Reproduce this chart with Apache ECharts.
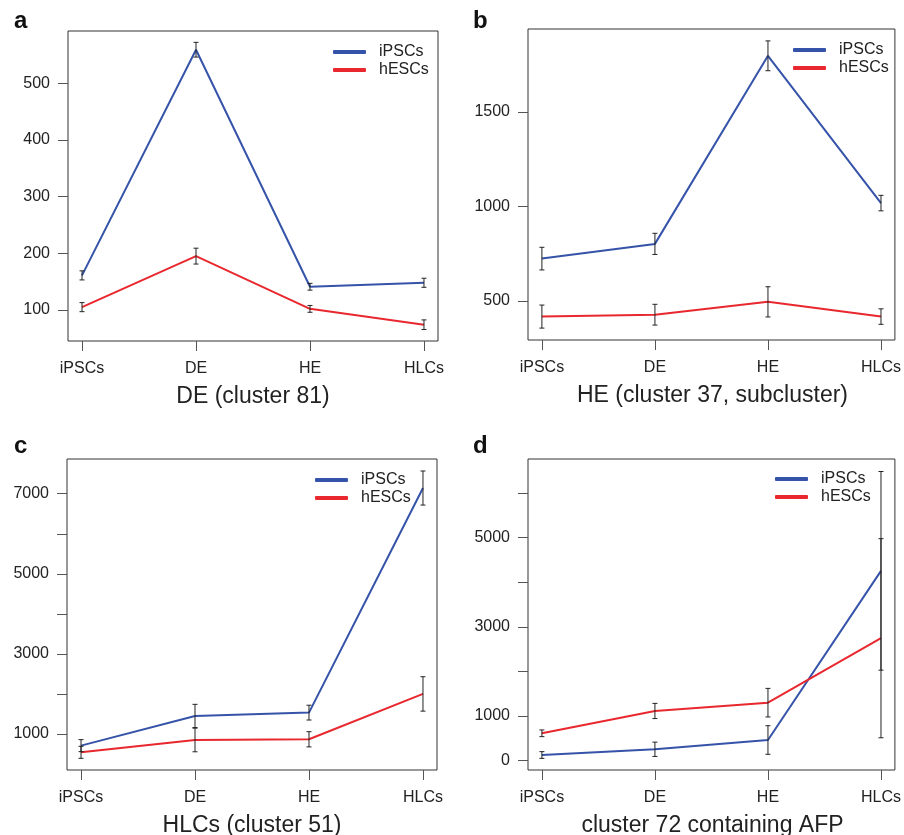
<!DOCTYPE html>
<html>
<head>
<meta charset="utf-8">
<script src="https://cdn.jsdelivr.net/npm/echarts@6/dist/echarts.min.js"></script>
<style>
  html, body { margin: 0; padding: 0; background: #fff; }
  #main { width: 904px; height: 835px; }
</style>
</head>
<body>
<div id="main"></div>
<script>
const categories = ['iPSCs', 'DE', 'HE', 'HLCs']

// panel a - DE (cluster 81)
const aIPSC = [161, 559, 141, 148]
const aIPSCErr = [8, 13, 6, 8]
const aHESC = [105, 195, 102, 74]
const aHESCErr = [8, 14, 6, 8.5]
const aTicks = [100, 200, 300, 400, 500]

// panel b - HE (cluster 37, subcluster)
const bIPSC = [724, 802, 1798, 1018]
const bIPSCErr = [60, 56, 79, 41]
const bHESC = [417, 427, 495, 417]
const bHESCErr = [61, 55, 80, 41]
const bTicks = [500, 1000, 1500]

// panel c - HLCs (cluster 51)
const cIPSC = [708, 1450, 1533, 7142]
const cIPSCErr = [150, 290, 185, 425]
const cHESC = [542, 850, 867, 2000]
const cHESCErr = [150, 295, 190, 430]
const cTicks = [1000, 2000, 3000, 4000, 5000, 6000, 7000]
const cLabels = [1000, 3000, 5000, 7000]

// panel d - cluster 72 containing AFP
const dIPSC = [128, 256, 464, 4253]
const dIPSCErr = [75, 160, 320, 2225]
const dHESC = [614, 1114, 1300, 2744]
const dHESCErr = [75, 170, 320, 2230]
const dTicks = [0, 1000, 2000, 3000, 4000, 5000, 6000]
const dLabels = [0, 1000, 3000, 5000]

const BLUE = '#3553a8'
const RED = '#e8282e'
const FONT = '"Liberation Sans", Arial, sans-serif'

const panels = [
  {ipsc: aIPSC, ipscErr: aIPSCErr, hesc: aHESC, hescErr: aHESCErr, ticks: aTicks, labels: aTicks,
    min: 45.3, max: 592, grid: {left: 68, top: 31, width: 370, height: 310},
    caption: 'DE (cluster 81)', letter: 'a', legendLeft: 333, legendTop: 44},
  {ipsc: bIPSC, ipscErr: bIPSCErr, hesc: bHESC, hescErr: bHESCErr, ticks: bTicks, labels: bTicks,
    min: 293, max: 1940, grid: {left: 528, top: 29, width: 369, height: 311},
    caption: 'HE (cluster 37, subcluster)', letter: 'b', legendLeft: 793, legendTop: 42},
  {ipsc: cIPSC, ipscErr: cIPSCErr, hesc: cHESC, hescErr: cHESCErr, ticks: cTicks, labels: cLabels,
    min: 100, max: 7867, grid: {left: 67, top: 459, width: 370, height: 311},
    caption: 'HLCs (cluster 51)', letter: 'c', legendLeft: 315, legendTop: 472},
  {ipsc: dIPSC, ipscErr: dIPSCErr, hesc: dHESC, hescErr: dHESCErr, ticks: dTicks, labels: dLabels,
    min: -208, max: 6758, grid: {left: 528, top: 459, width: 369, height: 311},
    caption: 'cluster 72 containing AFP', letter: 'd', legendLeft: 775, legendTop: 471}
]

const toPoints = (vals) => vals.map((v, i) => [i, v])
const toErr = (vals, errs) => vals.map((v, i) => [i, v, errs[i]])

// vertical error bar with small caps
const renderErr = (params, api) => {
  const x = api.value(0), y = api.value(1), e = api.value(2)
  const hi = api.coord([x, y + e])
  const lo = api.coord([x, y - e])
  const style = {stroke: '#222', lineWidth: 1}
  return {
    type: 'group',
    children: [
      {type: 'line', shape: {x1: hi[0], y1: hi[1], x2: lo[0], y2: lo[1]}, style},
      {type: 'line', shape: {x1: hi[0] - 2.5, y1: hi[1], x2: hi[0] + 2.5, y2: hi[1]}, style},
      {type: 'line', shape: {x1: lo[0] - 2.5, y1: lo[1], x2: lo[0] + 2.5, y2: lo[1]}, style}
    ]
  }
}

const grids = [], xAxes = [], yAxes = [], series = [], legends = [], graphics = []

panels.forEach((p, k) => {
  grids.push(Object.assign({show: true, borderColor: '#333', borderWidth: 1, backgroundColor: 'transparent'}, p.grid))
  xAxes.push({
    type: 'value', gridIndex: k, min: -0.123, max: 3.123,
    axisLine: {show: false, onZero: false},
    splitLine: {show: false},
    axisTick: {show: true, inside: false, length: 10, customValues: [0, 1, 2, 3], lineStyle: {color: '#555'}},
    axisLabel: {customValues: [0, 1, 2, 3], formatter: v => categories[v], margin: 20,
      color: '#222', fontSize: 16, fontFamily: FONT}
  })
  yAxes.push({
    type: 'value', gridIndex: k, min: p.min, max: p.max,
    axisLine: {show: false, onZero: false},
    splitLine: {show: false},
    axisTick: {show: true, inside: false, length: 10, customValues: p.ticks, lineStyle: {color: '#555'}},
    axisLabel: {customValues: p.labels, formatter: v => String(v), margin: 18,
      color: '#222', fontSize: 16, fontFamily: FONT}
  })
  series.push({
    name: 'iPSCs', type: 'line', xAxisIndex: k, yAxisIndex: k, data: toPoints(p.ipsc),
    symbol: 'none', lineStyle: {color: BLUE, width: 2}, itemStyle: {color: BLUE}, silent: true, z: 2
  })
  series.push({
    name: 'hESCs', type: 'line', xAxisIndex: k, yAxisIndex: k, data: toPoints(p.hesc),
    symbol: 'none', lineStyle: {color: RED, width: 2}, itemStyle: {color: RED}, silent: true, z: 3
  })
  series.push({
    name: 'errIPSC' + k, type: 'custom', xAxisIndex: k, yAxisIndex: k, coordinateSystem: 'cartesian2d',
    data: toErr(p.ipsc, p.ipscErr), renderItem: renderErr, silent: true, z: 4
  })
  series.push({
    name: 'errHESC' + k, type: 'custom', xAxisIndex: k, yAxisIndex: k, coordinateSystem: 'cartesian2d',
    data: toErr(p.hesc, p.hescErr), renderItem: renderErr, silent: true, z: 4
  })
  legends.push({
    data: ['iPSCs', 'hESCs'], orient: 'vertical', left: p.legendLeft, top: p.legendTop,
    padding: 0, itemGap: 2, itemWidth: 33, itemHeight: 4, icon: 'roundRect',
    selectedMode: false,
    textStyle: {fontSize: 16, lineHeight: 16, color: '#222', fontFamily: FONT, padding: [0, 0, 0, 8]}
  })
  const cx = p.grid.left + p.grid.width / 2
  const cy = p.grid.top + p.grid.height + 56
  graphics.push({
    type: 'text', x: cx, y: cy,
    style: {text: p.caption, align: 'center', verticalAlign: 'middle', fill: '#222', font: '23px ' + FONT}
  })
  graphics.push({
    type: 'text', x: k % 2 === 0 ? 14 : 473, y: k < 2 ? 21 : 446,
    style: {text: p.letter, align: 'left', verticalAlign: 'middle', fill: '#111', font: 'bold 24px ' + FONT}
  })
})

const chart = echarts.init(document.getElementById('main'), null, {renderer: 'canvas'})
chart.setOption({
  animation: false,
  backgroundColor: '#fff',
  grid: grids,
  xAxis: xAxes,
  yAxis: yAxes,
  legend: legends,
  graphic: graphics,
  series: series
})
</script>
</body>
</html>
